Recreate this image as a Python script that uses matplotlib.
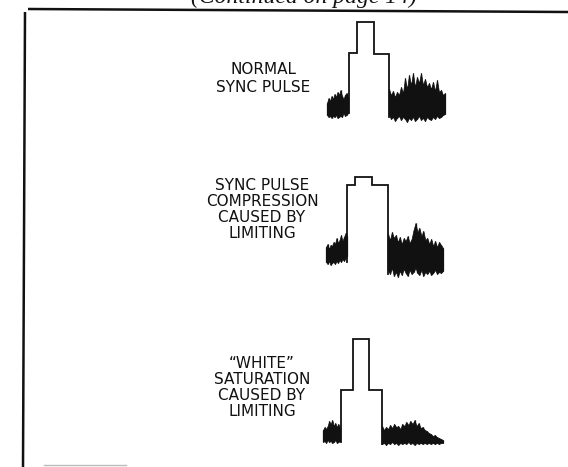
import numpy as np
import matplotlib
matplotlib.use("Agg")
import matplotlib.pyplot as plt

# ---------------- data ----------------
# pulse outlines: time (local units) and level (local units)
p1_t = [28.5, 28.5, 37, 37, 54, 54, 69, 69]
p1_v = [12, 72, 72, 103, 103, 71, 71, 8]
p2_t = [26.5, 26.5, 35, 35, 52, 52, 68, 68]
p2_v = [20, 97, 97, 105, 105, 97, 97, 8]
p3_t = [20.5, 20.5, 33, 33, 49, 49, 62, 62]
p3_v = [6, 58, 58, 109, 109, 58, 58, 4]

# noise envelopes (upper / lower), left and right of the pulse
n1L_hi = [22, 27, 24, 29, 26, 31, 28, 33, 30, 35, 29, 26, 30, 32, 28]
n1L_lo = [10, 8, 9, 7, 9, 8, 10, 7, 8, 9, 8, 12, 9, 10, 12]
n1R_hi = [36, 30, 34, 28, 33, 30, 38, 32, 47, 36, 50, 40, 52, 38, 48, 42,
          52, 40, 46, 38, 42, 36, 43, 34, 45, 33, 35, 30, 32]
n1R_lo = [10, 6, 8, 4, 7, 9, 5, 8, 6, 3, 7, 5, 8, 4, 6, 9,
          5, 7, 4, 8, 6, 5, 8, 6, 9, 7, 8, 10, 11]

n2L_hi = [35, 38, 33, 37, 36, 40, 38, 44, 39, 42, 47, 41, 45, 49, 46]
n2L_lo = [20, 18, 21, 17, 19, 20, 18, 21, 19, 22, 20, 23, 21, 24, 26]
n2R_hi = [48, 42, 50, 44, 47, 40, 45, 38, 44, 41, 46, 39, 43, 52, 59,
          50, 54, 46, 51, 42, 44, 38, 43, 36, 41, 35, 40, 37, 34]
n2R_lo = [12, 8, 14, 6, 10, 5, 11, 7, 13, 9, 6, 12, 8, 10, 14,
          9, 7, 12, 6, 10, 8, 11, 7, 9, 12, 8, 10, 9, 11]

n3L_hi = [18, 21, 19, 22, 27, 24, 28, 22, 25, 21, 24, 20]
n3L_lo = [6, 7, 5, 8, 6, 7, 5, 6, 8, 5, 6, 7]
n3R_hi = [22, 18, 21, 19, 23, 20, 24, 21, 22, 19, 24, 22, 26, 23, 27, 24,
          28, 22, 25, 20, 21, 18, 17, 15, 14, 12, 13, 11, 10, 9, 8]
n3R_lo = [4, 5, 3, 5, 4, 6, 4, 5, 3, 5, 4, 5, 4, 6, 4, 5,
          3, 5, 4, 5, 4, 5, 4, 5, 4, 5, 4, 5, 4, 5, 5]

labels1 = ["NORMAL", "SYNC PULSE"]
labels2 = ["SYNC PULSE", "COMPRESSION", "CAUSED BY", "LIMITING"]
labels3 = ["\u201cWHITE\u201d", "SATURATION", "CAUSED BY", "LIMITING"]
header = "(Continued on page 14)"

# ---------------- figure ----------------
W, H = 568, 467
fig = plt.figure(figsize=(W / 100, H / 100), dpi=100)
fig.patch.set_facecolor("white")

bg = fig.add_axes([0, 0, 1, 1])
bg.set_xlim(0, W)
bg.set_ylim(H, 0)
bg.axis("off")

ink = "#111111"
# frame lines
bg.plot([25, 23], [12, 467], color=ink, lw=1.8, solid_capstyle="butt")
bg.plot([28, 568], [9, 12], color=ink, lw=1.8, solid_capstyle="butt")
bg.plot([44, 126], [465, 465], color="#bbbbbb", lw=1.0)

bg.text(304, 3.0, header, ha="center", va="baseline", fontsize=17,
        family="Liberation Serif", style="italic", color=ink)

tfont = dict(family="DejaVu Sans", fontsize=11, color=ink,
             ha="center", va="baseline")
for lab, yb in zip(labels1, [73.5, 92.5]):
    bg.text(263, yb, lab, **tfont)
for lab, yb in zip(labels2, [190, 206, 222, 237.5]):
    bg.text(262, yb, lab, **tfont)
for lab, yb in zip(labels3, [367.5, 384.5, 400.5, 416.5]):
    bg.text(262, yb, lab, **tfont)


def panel(base_py, pt, pv, L_hi, L_lo, L_span, R_hi, R_lo, R_span):
    ax = fig.add_axes([320 / W, (H - base_py) / H, 130 / W, 110 / H])
    ax.set_xlim(0, 130)
    ax.set_ylim(0, 110)
    ax.axis("off")
    ax.plot(pt, pv, color=ink, lw=1.3, clip_on=False,
            solid_joinstyle="miter")
    for hi, lo, span in ((L_hi, L_lo, L_span), (R_hi, R_lo, R_span)):
        x = np.linspace(span[0], span[1], len(hi))
        ax.fill_between(x, lo, hi, color=ink, lw=0.5, edgecolor=ink)
        ax.vlines(x, lo, hi, color=ink, lw=0.9)
    return ax


panel(125, p1_t, p1_v, n1L_hi, n1L_lo, (7, 28), n1R_hi, n1R_lo, (69, 125))
panel(282, p2_t, p2_v, n2L_hi, n2L_lo, (6, 27), n2R_hi, n2R_lo, (68, 123))
panel(448, p3_t, p3_v, n3L_hi, n3L_lo, (3, 20), n3R_hi, n3R_lo, (62, 123))

fig.savefig("out.png", dpi=100, facecolor="white")
